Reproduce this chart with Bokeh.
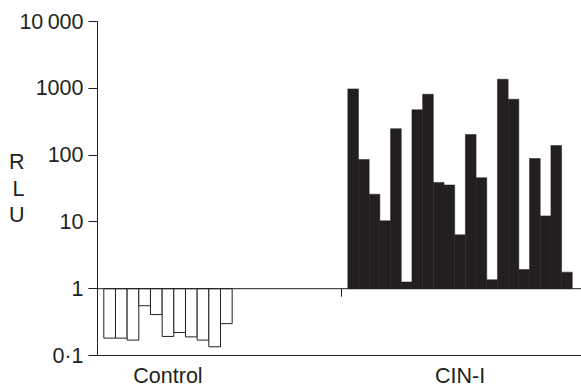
from bokeh.plotting import figure
from bokeh.models import Range1d, FixedTicker, Span, ColumnDataSource
from bokeh.embed import file_html
from bokeh.resources import INLINE

# ---- data ----
categories = ["Control", "CIN-I"]
control_rlu = [0.182, 0.182, 0.17, 0.556, 0.41, 0.193, 0.221, 0.19, 0.17, 0.135, 0.30]
cin_rlu = [980, 86, 26, 10.4, 249, 1.26, 477, 816, 39, 35.7, 6.4, 203, 45.9, 1.36,
           1364, 687, 1.94, 89, 12.3, 139, 1.77]
y_ticks = [0.1, 1, 10, 100, 1000, 10000]
y_tick_labels = ["0·1", "1", "10", "100", "1000", "10\u2009000"]
y_label = "R\nL\nU"

# ---- layout (screen-pixel-like x units) ----
INK = "#231f20"
FONT = "Liberation Sans"
FS = "21.5px"
W, H = 581, 390
frame_left, frame_top, frame_bottom = 97, 21, 357
frame_w = W - frame_left
frame_h = frame_bottom - frame_top

ctrl_start, ctrl_w = 6.3, 11.67
cin_start, cin_w = 250.3, 10.69
divider_x = 244.0

p = figure(width=W, height=H, output_backend="svg", toolbar_location=None,
           y_axis_type="log",
           x_range=Range1d(0, frame_w), y_range=Range1d(0.1, 10000),
           min_border_left=frame_left, min_border_top=frame_top,
           min_border_bottom=H - frame_bottom, min_border_right=0)
p.outline_line_color = None
p.background_fill_color = "white"
p.border_fill_color = "white"
p.xgrid.visible = False
p.ygrid.visible = False

# y axis
yax = p.yaxis[0]
yax.ticker = FixedTicker(ticks=y_ticks)
yax.major_label_overrides = {t: l for t, l in zip(y_ticks, y_tick_labels)}
yax.axis_line_color = INK
yax.axis_line_width = 1
yax.major_tick_line_color = INK
yax.major_tick_out = 9
yax.major_tick_in = 0
yax.minor_tick_line_color = None
yax.major_label_standoff = 5
yax.major_label_text_font = FONT
yax.major_label_text_font_size = FS
yax.major_label_text_color = INK
yax.axis_label = y_label
yax.axis_label_orientation = "horizontal"
yax.axis_label_standoff = -8
yax.axis_label_text_font = FONT
yax.axis_label_text_font_size = FS
yax.axis_label_text_font_style = "normal"
yax.axis_label_text_color = INK
yax.axis_label_text_line_height = 1.12
yax.axis_label_text_align = "center"

# category centres
centers = [ctrl_start + len(control_rlu) * ctrl_w / 2,
           cin_start + len(cin_rlu) * cin_w / 2]

# bottom axis at 0.1 carrying the category names
xax = p.xaxis[0]
xax.ticker = FixedTicker(ticks=centers)
xax.major_label_overrides = {c: n for c, n in zip(centers, categories)}
xax.axis_line_color = INK
xax.major_tick_line_color = None
xax.major_tick_out = 0
xax.major_tick_in = 0
xax.minor_tick_line_color = None
xax.major_label_standoff = 8
xax.major_label_text_font = FONT
xax.major_label_text_font_size = FS
xax.major_label_text_color = INK

# baseline at 1
p.add_layout(Span(location=1, dimension="width", line_color=INK, line_width=1))

# bars
cx = [ctrl_start + (i + 0.5) * ctrl_w for i in range(len(control_rlu))]
src_c = ColumnDataSource(dict(x=cx, top=control_rlu))
p.vbar(x="x", top="top", bottom=1, width=ctrl_w, source=src_c,
       fill_color="white", line_color=INK, line_width=1)

nx = [cin_start + (i + 0.5) * cin_w for i in range(len(cin_rlu))]
src_n = ColumnDataSource(dict(x=nx, top=cin_rlu))
p.vbar(x="x", top="top", bottom=1, width=cin_w, source=src_n,
       fill_color=INK, line_color=INK, line_width=0.5)

# small divider tick below the baseline
px_per_decade = frame_h / 5.0
p.segment(x0=[divider_x], x1=[divider_x], y0=[1], y1=[10 ** (-8 / px_per_decade)],
          line_color=INK, line_width=1)

open("out.html", "w").write(file_html(p, INLINE))
